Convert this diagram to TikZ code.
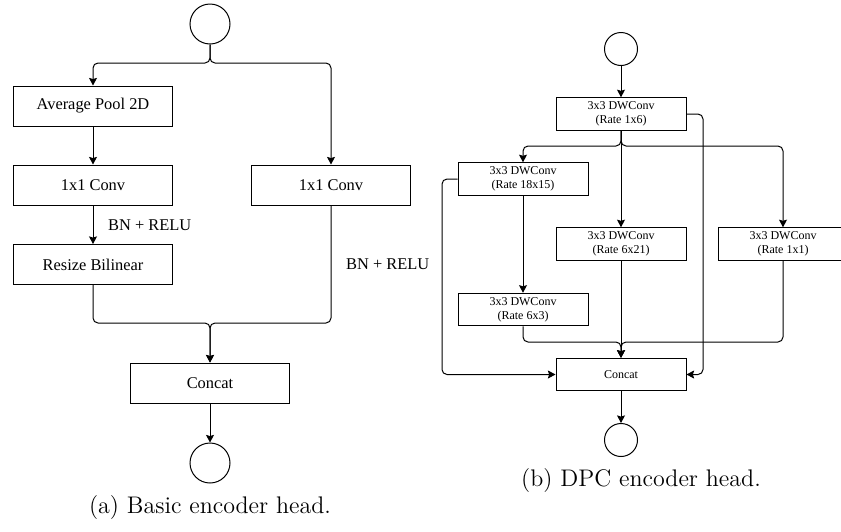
\documentclass[tikz,border=0pt]{standalone}
\usepackage{fontspec}
\newfontfamily\boxfont{Liberation Serif}
\usetikzlibrary{arrows.meta}

\tikzset{
  blockA/.style={draw, minimum width=79.5pt, minimum height=20pt, inner sep=1pt, font=\boxfont\fontsize{8.2}{9.5}\selectfont},
  blockB/.style={draw, minimum width=65pt, minimum height=16.25pt, inner sep=1pt, align=center, font=\boxfont\fontsize{6}{6.8}\selectfont},
  port/.style={draw, circle, inner sep=0pt},
  arr/.style={-{Stealth[length=3.8pt,width=4pt,inset=0.6pt]}, rounded corners=2.5pt},
  lbl/.style={font=\boxfont\fontsize{8.2}{9.5}\selectfont},
  caption/.style={font=\fontsize{12}{14}\selectfont},
}

\begin{document}
\begin{tikzpicture}[x=0.5pt, y=-0.5pt, line width=0.5pt]
    \useasboundingbox (0,0) rectangle (841,531);
    \clip (0,0) rectangle (841,531);

    % (a) Basic encoder head
    \node[port, minimum size=20pt] (inA) at (210,24) {};
    \coordinate (splitA) at (210,63);
    \node[blockA] (pool) at (93,106) {Average Pool 2D};
    \node[blockA] (convL) at (93,185) {1x1 Conv};
    \node[blockA] (resize) at (93,264.5) {Resize Bilinear};
    \node[blockA] (convR) at (331,185) {1x1 Conv};
    \coordinate (mergeA) at (210,323);
    \node[blockA] (concatA) at (210,383) {Concat};
    \node[port, minimum size=20pt] (outA) at (210,463) {};

    \draw[arr] (inA.south) -- (splitA) -| (pool.north);
    \draw[arr] (inA.south) -- (splitA) -| (convR.north);
    \draw[arr] (pool.south) -- (convL.north);
    \draw[arr] (convL.south) -- node[lbl, right=4pt] {BN + RELU} (resize.north);
    \draw[arr] (resize.south) |- (mergeA) -- (concatA.north);
    \draw[arr] (convR.south) -- node[lbl, right=4pt] {BN + RELU} (convR.south |- mergeA) -- (mergeA) -- (concatA.north);
    \draw[arr] (concatA.south) -- (outA.north);

    \node[caption] (capA) at (210,508) {(a) Basic encoder head.};

    % (b) DPC encoder head
    \node[port, minimum size=16.5pt] (inB) at (621,49) {};
    \node[blockB] (dw16) at (621,114) {3x3 DWConv\\(Rate 1x6)};
    \coordinate (splitB) at (621,146);
    \node[blockB] (dw1815) at (523,179) {3x3 DWConv\\(Rate 18x15)};
    \node[blockB] (dw63) at (523,309.5) {3x3 DWConv\\(Rate 6x3)};
    \node[blockB] (dw621) at (621,244) {3x3 DWConv\\(Rate 6x21)};
    \node[blockB] (dw11) at (783,244) {3x3 DWConv\\(Rate 1x1)};
    \coordinate (mergeB) at (621,342);
    \node[blockB] (concatB) at (621,374.5) {Concat};
    \node[port, minimum size=16.5pt] (outB) at (621,440) {};
    \coordinate (skipL) at (442,250);
    \coordinate (skipR) at (703,250);

    \draw[arr] (inB.south) -- (dw16.north);
    \draw[arr] (dw16.south) -- (splitB) -| (dw1815.north);
    \draw[arr] (dw16.south) -- (dw621.north);
    \draw[arr] (dw16.south) -- (splitB) -| (dw11.north);
    \draw[arr] (dw1815.south) -- (dw63.north);
    \draw[arr] (dw1815.west) -| (skipL) |- (concatB.west);
    \draw[arr] (dw16.east) -| (skipR) |- (concatB.east);
    \draw[arr] (dw63.south) |- (mergeB) -- (concatB.north);
    \draw[arr] (dw621.south) -- (concatB.north);
    \draw[arr] (dw11.south) |- (mergeB) -- (concatB.north);
    \draw[arr] (concatB.south) -- (outB.north);

    \node[caption] (capB) at (641,481) {(b) DPC encoder head.};
\end{tikzpicture}
\end{document}
